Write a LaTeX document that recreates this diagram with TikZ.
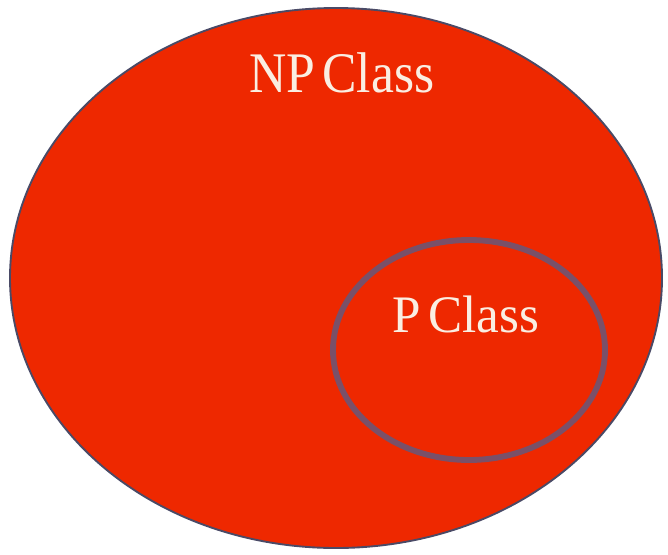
\documentclass[tikz,border=0pt]{standalone}
\usepackage{fontspec}
\setmainfont{Liberation Serif}
\usepackage{xcolor}
\usetikzlibrary{math}
\definecolor{classred}{HTML}{EE2800}
\definecolor{rimblue}{HTML}{4A4A66}
\definecolor{rimgray}{HTML}{7A5068}
\definecolor{labelwhite}{HTML}{FAEEE2}

\begin{document}
\begin{tikzpicture}[
  classlabel/.style={text=labelwhite, anchor=base, inner sep=0},
]
\tikzmath{
\px=0.03;
}
\useasboundingbox (0,0) rectangle (668*\px,-554*\px);
\fill[color=classred] (336*\px,-278*\px) ellipse ({326*\px} and {270*\px});
\draw[color=rimblue, line width=1.6] (336*\px,-278*\px) ellipse ({326*\px} and {270*\px});
\draw[color=rimgray, line width=5] (469*\px,-350*\px) ellipse ({136*\px} and {110*\px});
\node[classlabel, xscale=0.9] (np) at (342*\px,-92*\px) {\fontsize{49}{55}\selectfont NP\kern-0.12em{} Class};
\node[classlabel, xscale=0.97] (p) at (466*\px,-332*\px) {\fontsize{45}{50}\selectfont P\kern-0.1em{} Class};

\end{tikzpicture}
\end{document}
